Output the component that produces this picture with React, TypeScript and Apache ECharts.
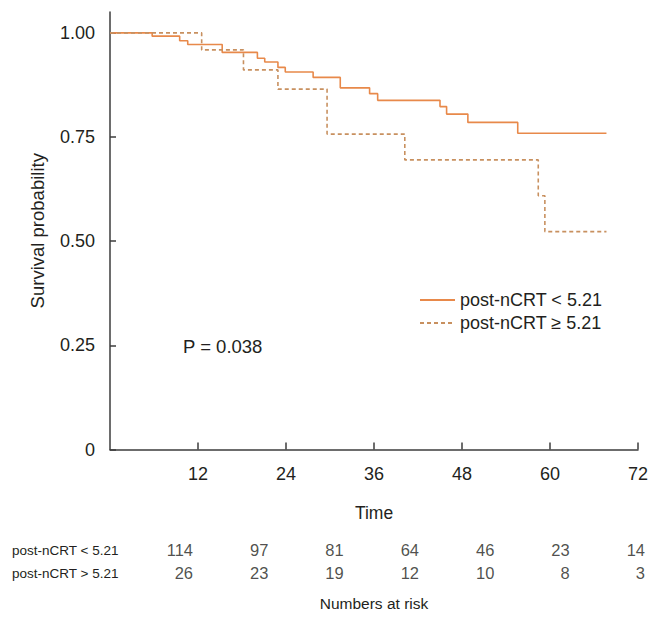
import React, { useEffect, useRef } from "react";
import * as echarts from "echarts";

// Kaplan-Meier step points: [time (months), survival probability]
const lowGroupCurve: number[][] = [
  [0, 1], [5.75, 0.992], [9.5, 0.981], [10.6, 0.972], [15.3, 0.953], [20.1, 0.939],
  [21.1, 0.93], [22.9, 0.917], [23.9, 0.906], [27.7, 0.893], [31.4, 0.868],
  [35.4, 0.854], [36.5, 0.838], [45.0, 0.823], [45.9, 0.805], [48.8, 0.785],
  [55.6, 0.759], [67.7, 0.759],
];
const highGroupCurve: number[][] = [
  [0, 1], [12.5, 0.959], [18.2, 0.911], [22.9, 0.865], [29.6, 0.757],
  [40.2, 0.695], [58.4, 0.609], [59.3, 0.523], [67.7, 0.523],
];

const seriesNames = ["post-nCRT < 5.21", "post-nCRT \u2265 5.21"];
const riskRowLabels = ["post-nCRT > 5.21", "post-nCRT < 5.21"]; // bottom row first
const riskLow = [114, 97, 81, 64, 46, 23, 14];
const riskHigh = [26, 23, 19, 12, 10, 8, 3];

const xTicks = [12, 24, 36, 48, 60, 72];
const yTicks = [0, 0.25, 0.5, 0.75, 1];
const pValueText = "P = 0.038";

const FONT = "'Liberation Sans', Arial, sans-serif";
const TEXT = "#231f20";
const AXIS = "#3c3c3c";
const SOLID = "#e8894a";
const DASHED = "#c8905f";

export default function App() {
  const ref = useRef<HTMLDivElement>(null);
  useEffect(() => {
    document.body.style.margin = "0";
    const chart = echarts.init(ref.current!, undefined, { renderer: "svg" });
    const riskData: any[] = [];
    riskLow.forEach((v, i) => riskData.push([i, 1, v]));
    riskHigh.forEach((v, i) => riskData.push([i, 0, v]));
    chart.setOption({
      animation: false,
      textStyle: { fontFamily: FONT, color: TEXT },
      grid: [
        { left: 110, right: 25, top: 12, bottom: 171.5, containLabel: false },
        { left: 193, right: 18, top: 550, bottom: 48, containLabel: false },
      ],
      xAxis: [
        {
          type: "value", gridIndex: 0, min: 0, max: 72, interval: 12,
          name: "Time", nameLocation: "middle", nameGap: 54,
          nameTextStyle: { fontFamily: FONT, fontSize: 17.5, color: TEXT },
          axisLine: { show: true, lineStyle: { color: AXIS, width: 1.5 } },
          axisTick: { show: true, inside: true, length: 7, customValues: xTicks, lineStyle: { color: AXIS, width: 1.5 } },
          axisLabel: { customValues: xTicks, margin: 15, fontFamily: FONT, fontSize: 18, color: TEXT },
          splitLine: { show: false },
        },
        {
          type: "value", gridIndex: 1, min: 0, max: 6, show: false,
        },
      ],
      yAxis: [
        {
          type: "value", gridIndex: 0, min: 0, max: 1.05,
          name: "Survival probability", nameLocation: "middle", nameGap: 63,
          nameTextStyle: { fontFamily: FONT, fontSize: 18.5, color: TEXT },
          axisLine: { show: true, lineStyle: { color: AXIS, width: 1.5 } },
          axisTick: { show: true, inside: true, length: 6, customValues: yTicks, lineStyle: { color: AXIS, width: 1.5 } },
          axisLabel: {
            customValues: yTicks, margin: 15, fontFamily: FONT, fontSize: 18, color: TEXT,
            formatter: (v: number) => (v === 0 ? "0" : v.toFixed(2)),
          },
          splitLine: { show: false },
        },
        {
          type: "category", gridIndex: 1, data: riskRowLabels, boundaryGap: false,
          axisLine: { show: false }, axisTick: { show: false },
          axisLabel: { show: true, align: "left", margin: 181, fontFamily: FONT, fontSize: 13.5, color: TEXT },
        },
      ],
      legend: {
        orient: "vertical", left: 414, top: 286, itemWidth: 35, itemHeight: 14, itemGap: 5,
        textStyle: { fontFamily: FONT, fontSize: 18, color: TEXT },
        itemStyle: { opacity: 0, borderWidth: 0 },
        data: seriesNames,
      },
      series: [
        {
          name: seriesNames[0], type: "line", step: "end", data: lowGroupCurve,
          xAxisIndex: 0, yAxisIndex: 0, symbol: "none", showSymbol: false,
          lineStyle: { color: SOLID, width: 1.6, type: "solid" }, itemStyle: { color: SOLID },
        },
        {
          name: seriesNames[1], type: "line", step: "end", data: highGroupCurve,
          xAxisIndex: 0, yAxisIndex: 0, symbol: "none", showSymbol: false,
          lineStyle: { color: DASHED, width: 1.6, type: [4, 3] }, itemStyle: { color: DASHED },
        },
        {
          type: "scatter", xAxisIndex: 1, yAxisIndex: 1, data: riskData, symbolSize: 0,
          label: {
            show: true, position: "inside", align: "right", verticalAlign: "middle",
            fontFamily: FONT, fontSize: 16.5, color: TEXT,
            formatter: (p: any) => String(p.value[2]),
          },
        },
      ],
      graphic: [
        {
          type: "text", left: 183, top: 337,
          style: { text: pValueText, fontFamily: FONT, fontSize: 18.5, fill: TEXT },
        },
        {
          type: "text", x: 374, y: 603,
          style: { text: "Numbers at risk", fontFamily: FONT, fontSize: 15.5, fill: TEXT, align: "center", verticalAlign: "middle" },
        },
      ],
    });
    return () => chart.dispose();
  }, []);
  return <div ref={ref} style={{ width: 663, height: 621 }} />;
}
